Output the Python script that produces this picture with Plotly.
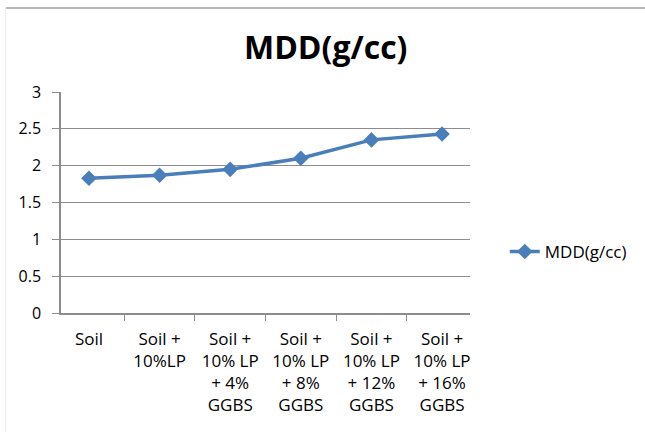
import plotly.graph_objects as go

categories = ["Soil", "Soil +<br>10%LP", "Soil +<br>10% LP<br>+ 4%<br>GGBS", "Soil +<br>10% LP<br>+ 8%<br>GGBS",
              "Soil +<br>10% LP<br>+ 12%<br>GGBS", "Soil +<br>10% LP<br>+ 16%<br>GGBS"]
mdd = [1.83, 1.87, 1.95, 2.10, 2.35, 2.43]
series_name = "MDD(g/cc)"
y_ticks = [0, 0.5, 1, 1.5, 2, 2.5, 3]

fig = go.Figure()
fig.add_trace(go.Scatter(
    x=categories, y=mdd, name=series_name, mode="lines+markers",
    line=dict(color="#4A7EBB", width=3.5),
    marker=dict(symbol="diamond", size=12, color="#4A7EBB"),
))

font = "Open Sans, Liberation Sans, sans-serif"
fig.update_layout(
    width=645, height=432,
    margin=dict(l=61, r=175, t=92, b=119, autoexpand=False),
    paper_bgcolor="white", plot_bgcolor="white",
    title=dict(text="<b>MDD(g/cc)</b>", x=0.505, xanchor="center", y=0.89, yanchor="middle",
               font=dict(family=font, size=32, color="black")),
    showlegend=True,
    legend=dict(x=1.085, y=0.276, xanchor="left", yanchor="middle",
                font=dict(family=font, size=17, color="black"), bgcolor="rgba(0,0,0,0)"),
    xaxis=dict(type="category", showline=True, linecolor="#8c8c8c", linewidth=1.5,
               ticks="outside", tickson="boundaries", ticklen=6, tickcolor="#8c8c8c",
               showgrid=False, tickfont=dict(family=font, size=17, color="black"),
               ticklabelstandoff=10, fixedrange=True),
    yaxis=dict(range=[0, 3], tickvals=y_ticks, ticktext=[str(v) for v in y_ticks],
               showline=True, linecolor="#8c8c8c", linewidth=1.5,
               ticks="outside", ticklen=7, tickcolor="#8c8c8c",
               showgrid=True, gridcolor="#8c8c8c", gridwidth=1.2, zeroline=False,
               tickfont=dict(family=font, size=16, color="black"), ticklabelstandoff=8),
)
fig.add_shape(type="line", xref="paper", yref="paper", x0=-0.135, x1=1.43, y0=1.38, y1=1.38,
              line=dict(color="#a0a0a0", width=1.5))
fig.add_shape(type="line", xref="paper", yref="paper", x0=-0.135, x1=-0.135, y0=1.38, y1=-0.54,
              line=dict(color="#ececec", width=1))
fig.write_html("out.html", config={"displayModeBar": False},
               post_script="document.body.style.margin='0';")
